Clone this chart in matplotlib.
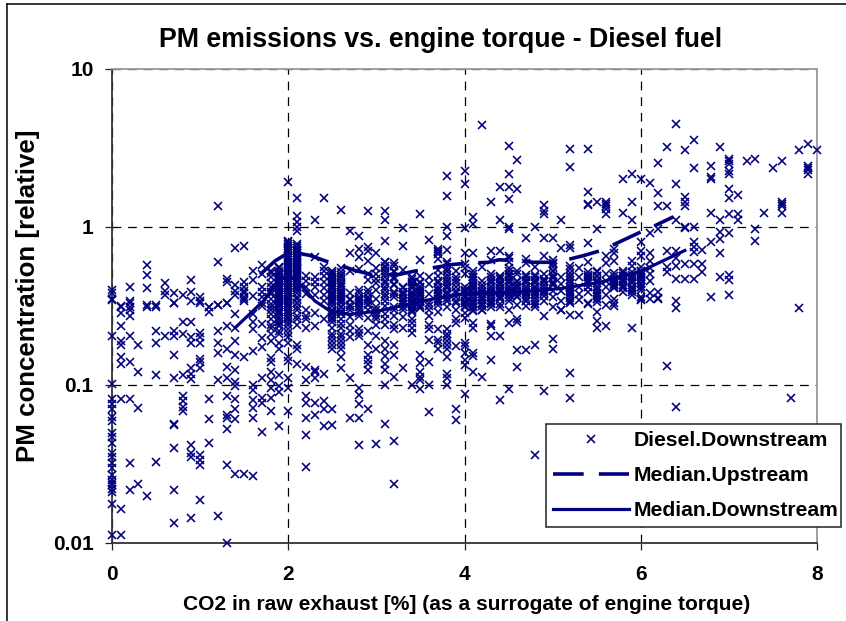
import matplotlib
matplotlib.use("Agg")
import matplotlib.pyplot as plt
from matplotlib.lines import Line2D

plt.rcParams['font.family'] = ['Liberation Sans', 'DejaVu Sans']
plt.rcParams['font.weight'] = 'bold'

title = "PM emissions vs. engine torque - Diesel fuel"
x_label = "CO2 in raw exhaust [%] (as a surrogate of engine torque)"
y_label = "PM concentration [relative]"
series_names = ["Diesel.Downstream", "Median.Upstream", "Median.Downstream"]
x_ticks = [0, 2, 4, 6, 8]
y_ticks = [0.01, 0.1, 1, 10]
y_tick_labels = ["0.01", "0.1", "1", "10"]

co2_levels = [round(i * 0.1, 1) for i in range(81)]
pm_at_co2 = [
    [.40, .38, .35, .345, .205, .102, .081, .076, .07, .063, .059, .0495, .047, .043, .037, .035, .032, .03, .027, .025, .024, .0232, .022, .021, .0176, .0112],
    [.31, .316, .287, .236, .19, .18, .15, .135, .081, .0163, .0112],
    [.416, .34, .31, .33, .30, .275, .205, .14, .081, .032, .0215],
    [.178, .12, .072, .0235],
    [.577, .50, .41, .32, .31, .0197],
    [.31, .32, .22, .185, .115, .0326],
    [.44, .395, .37, .205],
    [.38, .33, .33, .22, .205, .155, .11, .057, .056, .04, .0217, .0133],
    [.37, .25, .21, .115, .085, .079, .073, .068],
    [.46, .385, .34, .25, .20, .185, .128, .118, .109, .042, .037, .035, .0143],
    [.36, .34, .33, .214, .20, .185, .146, .14, .128, .036, .0335, .031, .0187],
    [.31, .31, .29, .082, .061, .043],
    [1.35, .60, .32, .32, .22, .185, .16, .107, .0148],
    [.47, .45, .33, .33, .235, .17, .13, .11, .085, .065, .062, .053, .031, .01],
    [.74, .43, .395, .37, .28, .23, .19, .155, .125, .105, .098, .082, .07, .061, .0275],
    [.755, .45, .415, .395, .38, .36, .34, .35, .15, .0275],
    [.525, .46, .365, .28, .25, .225, .165, .10, .093, .08, .072, .062, .0265],
    [.575, .505, .415, .385, .36, .33, .316, .245, .197, .175, .11, .083, .077, .0507],
    [.48, .44, .416, .39, .35, .326, .31, .28, .26, .21, .148, .14, .12, .108, .096, .083, .068, .24, .23, .19, .30, .375, .51, .53],
    [.56, .53, .50, .47, .44, .42, .40, .38, .36, .34, .32, .30, .28, .26, .24, .22, .185, .17, .116, .098, .09, .055, .55, .46, .41, .37, .33, .29, .25, .21],
    [1.92, .82, .78, .74, .70, .66, .62, .58, .55, .52, .49, .46, .44, .42, .40, .38, .36, .34, .33, .31, .30, .28, .26, .24, .214, .20, .185, .15, .142, .11, .096, .068, .72, .64, .56, .50, .43, .35, .27, .225],
    [1.52, 1.18, 1.07, 1.0, .95, .78, .74, .70, .66, .62, .58, .55, .52, .49, .46, .44, .42, .40, .38, .36, .33, .31, .33, .30, .275, .26, .24, .18, .17, .135, .68, .60, .50, .43, .35],
    [.49, .458, .416, .377, .30, .275, .26, .23, .13, .108, .085, .077, .062, .048, .0304],
    [1.10, .645, .48, .45, .416, .37, .285, .235, .125, .12, .11, .077, .065],
    [1.52, .557, .53, .49, .45, .41, .37, .34, .26, .118, .079, .07, .055],
    [.53, .50, .47, .44, .42, .39, .37, .35, .33, .30, .29, .27, .25, .23, .21, .20, .19, .18, .17, .07, .056],
    [1.28, .55, .50, .46, .43, .40, .38, .36, .34, .245, .23, .21, .20, .19, .18, .17, .15, .128, .31, .29],
    [.94, .68, .53, .38, .35, .32, .345, .31, .24, .22, .20, .11, .0615, .30, .27],
    [.88, .73, .645, .54, .40, .34, .35, .33, .225, .214, .204, .096, .087, .0755, .0615, .042, .31],
    [1.26, .746, .71, .61, .505, .46, .35, .326, .265, .22, .18, .155, .145, .135, .125, .07],
    [.68, .55, .505, .47, .44, .40, .35, .31, .30, .287, .273, .26, .24, .205, .168, .0425],
    [1.26, 1.10, .81, .60, .55, .505, .458, .416, .377, .342, .316, .28, .26, .24, .19, .168, .152, .135, .125, .10, .0565],
    [.59, .53, .48, .436, .377, .31, .30, .273, .24, .225, .18, .155, .113, .0445, .0236],
    [.98, .76, .535, .416, .377, .342, .23, .128, .30, .27],
    [.48, .45, .416, .377, .342, .31, .33, .30, .26, .248, .23, .214, .10, .36, .29],
    [1.21, .614, .49, .45, .416, .377, .342, .34, .31, .155, .138, .12, .113, .108, .095],
    [.83, .48, .436, .377, .33, .316, .273, .24, .225, .194, .14, .10, .067, .30],
    [.73, .71, .69, .67, .63, .535, .49, .458, .40, .377, .34, .29, .225, .194, .185, .17, .32],
    [2.10, 1.57, 1.0, .88, .72, .60, .53, .458, .416, .377, .342, .31, .225, .21, .20, .19, .18, .17, .15, .118, .11, .10],
    [.53, .48, .396, .33, .26, .248, .176, .07, .06, .30],
    [2.27, 1.87, .98, .68, .585, .55, .505, .396, .36, .33, .31, .33, .316, .287, .265, .185, .176, .16, .145, .133, .088],
    [1.16, 1.05, .68, .48, .436, .416, .377, .342, .31, .33, .30, .248, .23, .16, .152, .12],
    [4.45, .555, .458, .396, .36, .326, .316, .30, .112, .35],
    [1.45, .71, .62, .505, .458, .416, .377, .342, .33, .31, .245, .236, .205, .145],
    [1.8, 1.1, .71, .48, .436, .396, .36, .326, .31, .205, .08],
    [3.27, 2.15, 1.8, 1.5, 1.0, .97, .66, .635, .60, .505, .458, .416, .377, .342, .30, .248, .094],
    [2.65, 1.75, .53, .505, .458, .416, .36, .32, .26, .25, .167, .13],
    [.85, .63, .59, .458, .416, .377, .342, .316, .167],
    [1.0, .557, .458, .416, .377, .326, .18, .036],
    [1.37, 1.26, 1.2, .85, .66, .505, .458, .396, .342, .273, .091],
    [.85, .585, .53, .48, .436, .396, .36, .31, .195, .17],
    [1.10, .74, .48, .436, .396, .342, .30, .297],
    [3.10, 2.40, .77, .74, .49, .445, .416, .377, .342, .278, .119, .083],
    [.55, .48, .416, .377, .345, .278],
    [3.1, 1.67, 1.4, 1.37, .79, .60, .48, .458, .416, .385, .33, .325],
    [1.44, .975, .53, .49, .458, .416, .377, .35, .29, .254, .23],
    [1.44, 1.40, 1.35, 1.30, 1.20, .66, .59, .505, .458, .416, .37, .32, .236],
    [.73, .68, .61, .458, .436, .416, .35, .315, .33],
    [2.0, 1.22, .53, .49, .458, .42, .39],
    [2.15, 1.43, 1.10, .61, .57, .52, .48, .45, .41, .37, .385, .23],
    [2.0, .80, .70, .66, .53, .505, .47, .436, .416, .35, .36, .345],
    [1.9, .92, .68, .61, .55, .505, .458, .38, .35],
    [2.55, 1.63, 1.36, .975, .385, .35, .355],
    [3.2, 1.35, .70, .555, .52, .131],
    [4.5, 1.87, 1.10, .71, .64, .57, .47, .34, .305, .073],
    [3.05, 1.55, 1.45, 1.35, 1.0, .98, .58, .47],
    [3.55, 2.37, 1.0, .80, .746, .69, .58, .47],
    [.72, .58, .52],
    [2.45, 2.08, 2.02, 1.23, .80, .36],
    [3.2, 1.10, .93, .84, .68, .48],
    [2.70, 2.60, 2.50, 2.25, 2.15, 1.75, 1.53, 1.2, .92, .50, .465, .37],
    [1.6, 1.2, 1.1],
    [2.6],
    [2.7, .97, .81],
    [1.22],
    [2.35],
    [2.6, 1.44, 1.40, 1.35, 1.22],
    [.083],
    [3.05, .305],
    [3.35, 2.45, 2.35, 2.30, 2.15],
    [3.05],
]

dense_co2 = [1.9, 2.0, 2.1, 2.5, 2.6, 2.8, 2.9, 3.1, 3.2, 3.3, 3.4, 3.5, 3.7, 3.8, 3.9, 4.0, 4.1, 4.2, 4.3, 4.4, 4.5, 4.6, 4.7, 4.8, 4.9, 5.0, 5.2, 5.4, 5.5, 5.7, 5.8, 5.9, 6.0]
dense_pm = [
    [.515, .485, .455, .43, .41, .39, .37, .35, .33, .31, .29, .27, .25, .235],
    [.80, .76, .68, .60, .57, .535, .505, .475, .45, .43, .41, .39, .37, .35, .32, .29, .27, .25],
    [.76, .72, .68, .64, .60, .565, .535, .505, .475, .45, .43, .41],
    [.51, .485, .455, .43, .405, .38, .36, .34, .315, .295, .28, .26],
    [.52, .48, .445, .415, .39, .37, .35, .33, .31, .295, .28, .26],
    [.38, .36, .345, .33, .315, .30, .285, .275],
    [.40, .38, .36, .34, .32, .30],
    [.60, .57, .53, .48, .44, .40, .36],
    [.57, .52, .47, .43, .39, .36],
    [.41, .39, .37, .355, .34, .325, .31],
    [.47, .45, .43, .41, .39, .37, .355, .34, .325, .31, .30],
    [.44, .42, .40, .385, .365, .35, .335, .32, .305],
    [.44, .42, .40, .38, .365, .35, .335],
    [.58, .55, .525, .50, .475, .45, .43, .41, .39, .37, .355, .34],
    [.46, .44, .42, .38, .36, .34],
    [.42, .40, .385, .37, .355, .34],
    [.53, .505, .485, .465, .445, .425, .405, .39, .37, .355, .34, .325, .31, .295],
    [.43, .41, .39, .375, .36, .345, .33, .315, .30],
    [.48, .46, .44, .42, .40, .385, .37, .355, .34, .325],
    [.49, .47, .45, .43, .41, .395, .38, .365, .35],
    [.55, .525, .50, .48, .46, .44, .42, .40, .385, .37, .355],
    [.45, .43, .41, .395, .38, .365],
    [.50, .48, .46, .44, .42, .40, .385, .37, .355, .34],
    [.50, .48, .46, .44, .42, .40, .385, .37, .355, .34, .325, .31],
    [.47, .45, .43, .41, .395, .38, .365],
    [.62, .59, .56, .53, .50, .475, .45, .43],
    [.57, .54, .51, .485, .46, .44, .42, .40, .385, .37, .355, .34, .33],
    [.52, .50, .48, .46, .44, .42],
    [.52, .49, .46, .44, .42, .40, .38, .365, .35, .335],
    [.51, .49, .47, .45, .43, .41],
    [.51, .49, .47, .45, .43, .41],
    [.50, .48, .46, .44, .42, .40],
    [.56, .53, .50, .48, .46, .44, .42, .40],
]

median_up_co2 = [1.68, 1.85, 1.95, 2.13, 2.25, 2.42, 2.6, 2.76, 2.95, 3.25, 3.42, 3.85, 4.02, 4.27, 4.39, 4.63, 4.78, 5.0, 5.12, 5.35, 5.55, 6.0, 6.13, 6.37]
median_up_pm = [.50, .61, .66, .68, .66, .61, .57, .53, .50, .50, .524, .578, .589, .598, .62, .612, .598, .598, .612, .659, .71, .93, 1.0, 1.16]
median_down_co2 = [1.4, 1.72, 1.87, 2.0, 2.17, 2.3, 2.47, 2.7, 3.04, 3.53, 3.99, 4.55, 5.08, 5.54, 6.0, 6.5]
median_down_pm = [.231, .341, .447, .50, .415, .341, .295, .28, .295, .341, .378, .385, .407, .447, .524, .71]

W, H = 846, 621
NAVY = "#000080"
fig = plt.figure(figsize=(W / 100, H / 100), dpi=100, facecolor="white")
ax = fig.add_axes([112 / W, 1 - 543 / H, 705 / W, 474 / H])

xs, ys = [], []
for c, vals in list(zip(co2_levels, pm_at_co2)) + list(zip(dense_co2, dense_pm)):
    for v in vals:
        xs.append(c)
        ys.append(v)

ax.plot(xs, ys, ls="none", marker="x", ms=5.4, mew=1.15, color=NAVY, clip_on=False,
        zorder=3, label=series_names[0])
ax.plot(median_up_co2, median_up_pm, color=NAVY, lw=2.6, dashes=(8.5, 4.2), zorder=4,
        label=series_names[1], dash_capstyle="butt")
ax.plot(median_down_co2, median_down_pm, color=NAVY, lw=2.3, zorder=4, label=series_names[2])

ax.set_yscale("log")
ax.set_xlim(0, 8)
ax.set_ylim(0.01, 10)
ax.set_xticks(x_ticks)
ax.set_xticklabels([str(t) for t in x_ticks])
ax.set_yticks(y_ticks)
ax.set_yticklabels(y_tick_labels)
ax.minorticks_off()
ax.tick_params(axis="both", direction="out", length=5.2, width=0.9, color="#222222",
               labelsize=15, pad=8)
ax.tick_params(axis="x", pad=10.5)
ax.grid(True, color="black", lw=0.9, dashes=(7, 5.5), zorder=1)
ax.set_axisbelow(True)
for name, col, lw in [("left", "#333333", 1.3), ("bottom", "#333333", 1.3),
                      ("top", "#999999", 1.3), ("right", "#999999", 1.3)]:
    ax.spines[name].set_color(col)
    ax.spines[name].set_linewidth(lw)

fig.text(440.5 / W, 1 - 40 / H, title, ha="center", va="center", fontsize=19.3, weight="bold")
fig.text(466.5 / W, 1 - 604 / H, x_label, ha="center", va="center", fontsize=15.1, weight="bold")
fig.text(28 / W, 1 - 296 / H, y_label, ha="center", va="center", rotation=90, fontsize=18.6, weight="bold")

fig.add_artist(Line2D([7 / W, 7 / W], [0, 1 - 4 / H], color="black", lw=1.1))
fig.add_artist(Line2D([7 / W, 1], [1 - 4 / H, 1 - 4 / H], color="black", lw=1.1))

leg = ax.legend(loc="lower left", bbox_to_anchor=(546 / W, 1 - 527 / H, 295 / W, 107 / H),
                bbox_transform=fig.transFigure, mode="expand", borderaxespad=0,
                fontsize=15.2, handlelength=3.6, handletextpad=0.2, labelspacing=0.75,
                borderpad=0.33, fancybox=False, framealpha=1, edgecolor="#222222", numpoints=1)
leg.get_frame().set_linewidth(1.1)
leg.set_zorder(6)

fig.savefig("out.png", dpi=100, facecolor="white")
